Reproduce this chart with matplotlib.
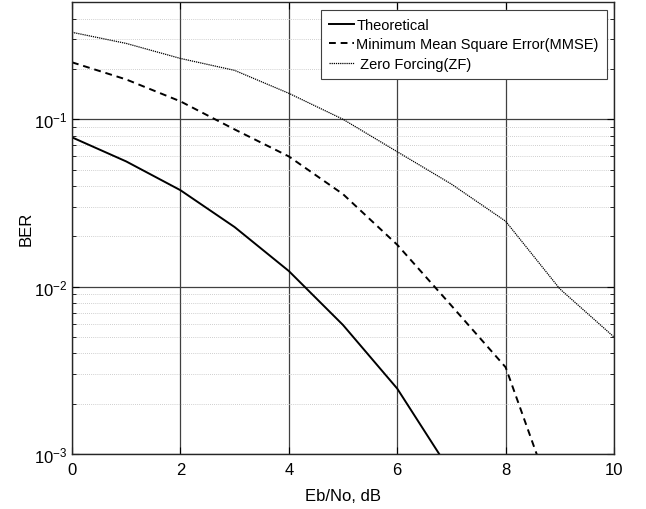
import matplotlib
matplotlib.use('Agg')
import matplotlib.pyplot as plt

snr = [0, 1, 2, 3, 4, 5, 6, 7, 8, 9, 10]
ber_theory = [0.078, 0.056, 0.0377, 0.0227, 0.0124, 0.0059, 0.00246, 0.00077, None, None, None]
ber_mmse = [0.219, 0.173, 0.128, 0.087, 0.060, 0.0357, 0.0178, 0.0077, 0.0033, 0.00041, None]
ber_zf = [0.331, 0.284, 0.231, 0.196, 0.143, 0.100, 0.064, 0.041, 0.0246, 0.0097, 0.0050]

def clean(xs, ys):
    pairs = [(x, y) for x, y in zip(xs, ys) if y is not None]
    return [p[0] for p in pairs], [p[1] for p in pairs]

plt.rcParams['font.family'] = 'Liberation Sans'

fig = plt.figure(figsize=(6.46, 5.10), dpi=100)
ax = fig.add_axes([0.1115, 0.1078, 0.8390, 0.8857])

x, y = clean(snr, ber_theory)
ax.semilogy(x, y, 'k-', lw=1.4, label='Theoretical')
x, y = clean(snr, ber_mmse)
ax.semilogy(x, y, color='k', ls=(0, (3.5, 2.5)), lw=1.4, label='Minimum Mean Square Error(MMSE)')
x, y = clean(snr, ber_zf)
ax.semilogy(x, y, color='k', ls=(0, (1, 0.7)), lw=0.9, label=' Zero Forcing(ZF)')

ax.set_xlim(0, 10)
ax.set_ylim(1e-3, 0.5)
ax.set_xticks([0, 2, 4, 6, 8, 10])
ax.grid(True, which='major', color='#404040', lw=0.9, ls='-')
ax.grid(True, which='minor', axis='y', color='#c0c0c0', lw=0.6, ls=(0, (1, 1.5)))
ax.tick_params(which='both', direction='in', top=True, right=True, labelsize=12)
ax.tick_params(axis='x', pad=6)
ax.tick_params(which='major', length=5)
ax.tick_params(which='minor', length=3)
for s in ax.spines.values():
    s.set_linewidth(1.0)
    s.set_color('#262626')

ax.set_xlabel('Eb/No, dB', fontsize=12, labelpad=8)
ax.set_ylabel('BER', fontsize=12, labelpad=0)

leg = ax.legend(loc='upper right', fontsize=10.5, fancybox=False, framealpha=1,
                edgecolor='#404040', handlelength=1.7, handletextpad=0.15,
                borderpad=0.55, labelspacing=0.4, borderaxespad=0.5)
leg.get_frame().set_linewidth(0.8)

fig.savefig('out.png', dpi=100)
